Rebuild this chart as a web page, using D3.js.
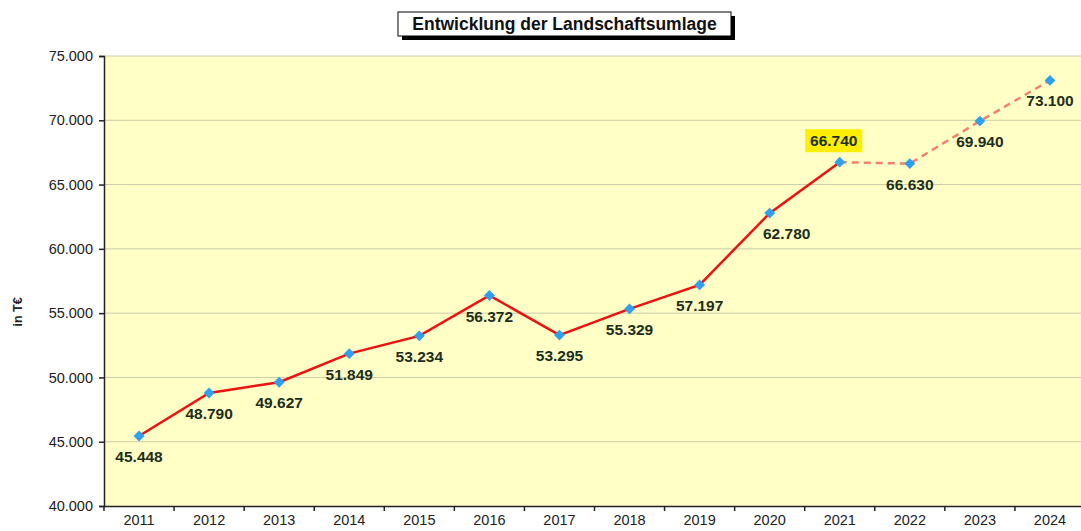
<!DOCTYPE html>
<html>
<head>
<meta charset="utf-8">
<script src="https://cdn.jsdelivr.net/npm/d3@7"></script>
<style>
  body { margin: 0; background: #fff; }
  svg { display: block; font-family: Arial, "Liberation Sans", sans-serif; }
</style>
</head>
<body>
<svg width="1081" height="531"></svg>
<script>
// data
var years = ["2011", "2012", "2013", "2014", "2015", "2016", "2017", "2018", "2019", "2020", "2021", "2022", "2023", "2024"];
var values = [45448, 48790, 49627, 51849, 53234, 56372, 53295, 55329, 57197, 62780, 66740, 66630, 69940, 73100];
var lastActual = 10; // index of 2021, after that it's planned (dashed)
var yTicks = [40000, 45000, 50000, 55000, 60000, 65000, 70000, 75000];

var margin = {top: 56, right: -4, bottom: 25, left: 104},
    width = 1081 - margin.left - margin.right,
    height = 531 - margin.top - margin.bottom;

var svg = d3.select("svg");
var g = svg.append("g")
    .attr("transform", "translate(" + margin.left + "," + margin.top + ")");

var fmtInt = function (v) { return d3.format(",")(v).replace(/,/g, "."); };

var x = d3.scaleBand().domain(years).range([0, width]);
var y = d3.scaleLinear().domain([40000, 75000]).range([height, 0]);
var cx = function (d) { return x(d.year) + x.bandwidth() / 2; };

// plot background
g.append("rect")
    .attr("width", width).attr("height", height)
    .attr("fill", "#ffffc6");

// gridlines
g.selectAll(".grid").data(yTicks.slice(1)).enter().append("line")
    .attr("x1", 0).attr("x2", width)
    .attr("y1", function (d) { return y(d); })
    .attr("y2", function (d) { return y(d); })
    .attr("stroke", "#c9cca8").attr("stroke-width", 1);

// y axis
var yAxis = g.append("g")
    .call(d3.axisLeft(y).tickValues(yTicks).tickSize(5).tickPadding(6)
        .tickFormat(fmtInt));
yAxis.select(".domain").attr("stroke", "#222").attr("stroke-width", 1.5);
yAxis.selectAll("text").attr("font-size", 14.5).attr("fill", "#222").attr("font-family", "Arial, 'Liberation Sans', sans-serif");
yAxis.selectAll(".tick line").attr("stroke", "#222").attr("stroke-width", 1.5);

// x axis, ticks sit between categories
var xAxis = g.append("g").attr("transform", "translate(0," + height + ")")
    .call(d3.axisBottom(x).tickSize(0).tickPadding(9));
xAxis.select(".domain").attr("stroke", "#222").attr("stroke-width", 1.5);
xAxis.selectAll("text").attr("font-size", 14.5).attr("fill", "#222").attr("font-family", "Arial, 'Liberation Sans', sans-serif");
xAxis.selectAll(".sep").data(years).enter().append("line")
    .attr("x1", function (d) { return x(d); }).attr("x2", function (d) { return x(d); })
    .attr("y1", 0).attr("y2", 5)
    .attr("stroke", "#222").attr("stroke-width", 1.5);

// lines
var line = d3.line().x(cx).y(function (d) { return y(d.value); });
var pts = years.map(function (yr, i) { return {year: yr, value: values[i], i: i}; });

g.append("path")
    .datum(pts.slice(0, lastActual + 1))
    .attr("d", line).attr("fill", "none")
    .attr("stroke", "#ee1111").attr("stroke-width", 2.5);
g.append("path")
    .datum(pts.slice(lastActual))
    .attr("d", line).attr("fill", "none")
    .attr("stroke", "#f08070").attr("stroke-width", 2.5)
    .attr("stroke-dasharray", "7,5");

// markers
g.selectAll(".pt").data(pts).enter().append("path")
    .attr("d", d3.symbol().type(d3.symbolDiamond2).size(75))
    .attr("transform", function (d) {
        return "translate(" + cx(d) + "," + y(d.value) + ")";
    })
    .attr("fill", "#2f9ff0");

// value labels (below the point, the 2021 one above on yellow)
var labels = g.selectAll(".lbl").data(pts).enter().append("g")
    .attr("transform", function (d) {
        var dx = 0, dy = 26;
        if (d.year === "2020") dx = 17;
        if (d.i === lastActual) { dx = -6; dy = -16; }
        return "translate(" + (cx(d) + dx) + "," + (y(d.value) + dy) + ")";
    });
labels.filter(function (d) { return d.i === lastActual; }).append("rect")
    .attr("x", -28.5).attr("y", -17).attr("width", 57).attr("height", 23)
    .attr("fill", "#ffee00");
labels.append("text")
    .attr("text-anchor", "middle")
    .attr("font-size", 15.5).attr("font-weight", "bold")
    .attr("fill", "#1c2e1c")
    .text(function (d) { return fmtInt(d.value); });

// y label
svg.append("text")
    .attr("transform", "translate(22,312) rotate(-90)")
    .attr("text-anchor", "middle")
    .attr("font-size", 12.5).attr("font-weight", "bold").attr("fill", "#222")
    .text("in T€");

// title box with shadow
var tb = svg.append("g").attr("transform", "translate(398,12)");
tb.append("rect").attr("x", 4).attr("y", 4).attr("width", 333).attr("height", 24).attr("fill", "#000");
tb.append("rect").attr("x", 0).attr("y", 0).attr("width", 333).attr("height", 24)
    .attr("fill", "#fff").attr("stroke", "#000").attr("stroke-width", 1);
tb.append("text").attr("x", 166.5).attr("y", 18)
    .attr("text-anchor", "middle").attr("font-size", 17.5).attr("font-weight", "bold").attr("fill", "#111")
    .text("Entwicklung der Landschaftsumlage");
</script>
</body>
</html>
